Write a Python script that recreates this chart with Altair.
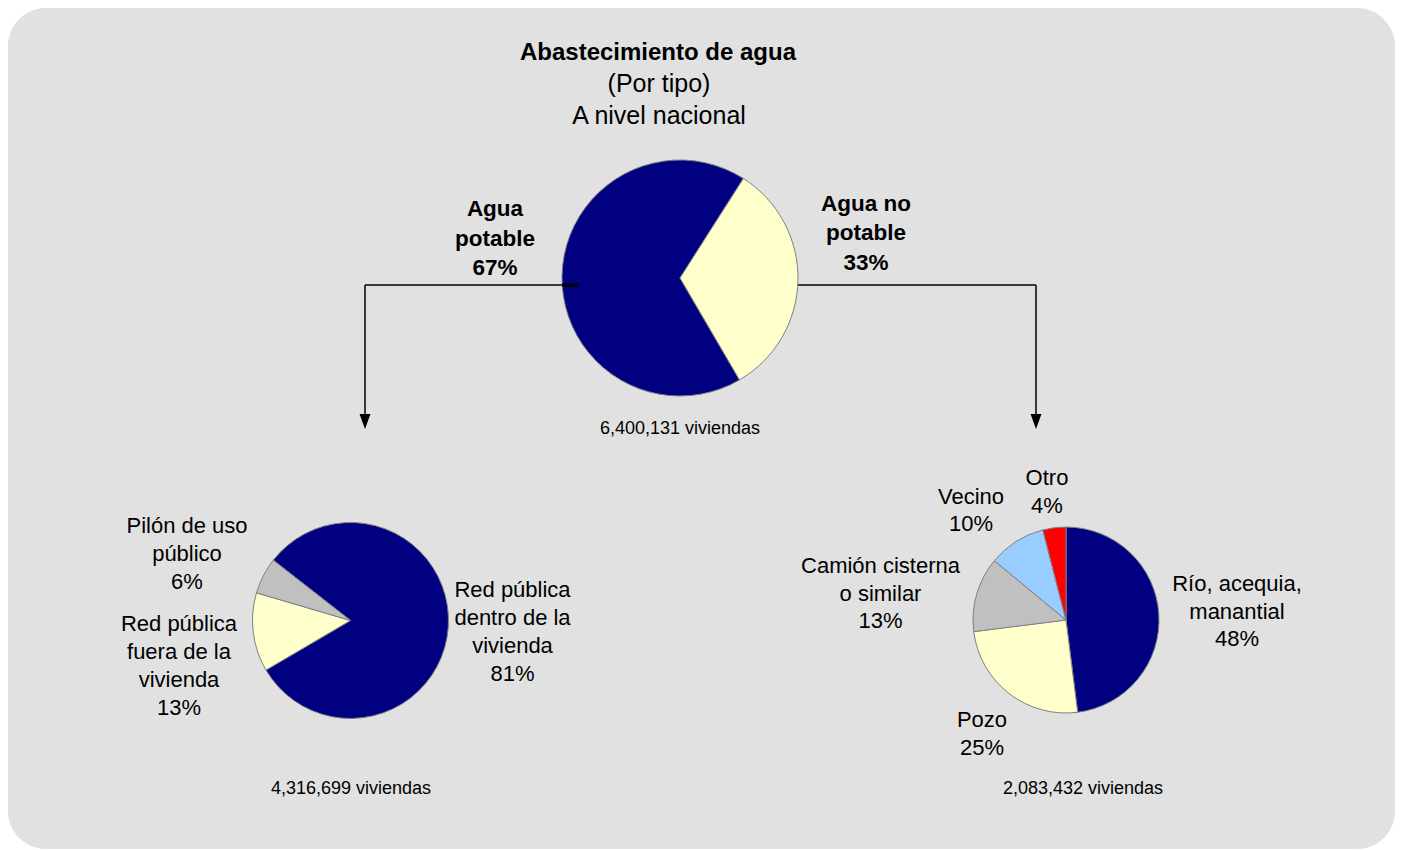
import math
import altair as alt
import pandas as pd

# ---------------- data ----------------
top_cats = ["Agua potable", "Agua no potable"]
top_vals = [4316699, 2083432]

left_cats = ["Red pública dentro de la vivienda", "Red pública fuera de la vivienda", "Pilón de uso público"]
left_vals = [81, 13, 6]

right_cats = ["Río, acequia, manantial", "Pozo", "Camión cisterna o similar", "Vecino", "Otro"]
right_vals = [48, 25, 13, 10, 4]

title_lines = ["Abastecimiento de agua", "(Por tipo)", "A nivel nacional"]
unit = "viviendas"

# label wrapping (text only)
wrapped = {
    "Agua potable": "Agua\npotable",
    "Agua no potable": "Agua no\npotable",
    "Red pública dentro de la vivienda": "Red pública\ndentro de la\nvivienda",
    "Red pública fuera de la vivienda": "Red pública\nfuera de la\nvivienda",
    "Pilón de uso público": "Pilón de uso\npúblico",
    "Río, acequia, manantial": "Río, acequia,\nmanantial",
    "Pozo": "Pozo",
    "Camión cisterna o similar": "Camión cisterna\no similar",
    "Vecino": "Vecino",
    "Otro": "Otro",
}

# ---------------- styles / layout ----------------
NAVY, CREAM, GRAY, SKY, RED = "#000080", "#FFFFCC", "#C0C0C0", "#99CCFF", "#FF0000"
top_colors = [NAVY, CREAM]
left_colors = [NAVY, CREAM, GRAY]
right_colors = [NAVY, CREAM, GRAY, SKY, RED]

OFF = 8
W, H = 1387, 841
FONT = "Liberation Sans"

# label anchor positions (page pixels, centre of first line)
label_pos = {
    "Agua potable": (495, 209),
    "Agua no potable": (866, 203.5),
    "Red pública dentro de la vivienda": (512.5, 590),
    "Red pública fuera de la vivienda": (179, 623.5),
    "Pilón de uso público": (187, 526),
    "Río, acequia, manantial": (1237, 584),
    "Pozo": (982, 720),
    "Camión cisterna o similar": (880.5, 566),
    "Vecino": (971, 496.5),
    "Otro": (1047, 478),
}


def pct(vals):
    s = sum(vals)
    return [f"{round(v / s * 100)}%" for v in vals]


def pie(cats, vals, colors, cx, cy, r, start_deg):
    df = pd.DataFrame({"cat": cats, "val": vals, "col": colors, "ord": list(range(len(cats)))})
    s = math.radians(start_deg)
    return alt.Chart(df).mark_arc(radius=r, stroke="#808080", strokeWidth=1).encode(
        theta=alt.Theta("val:Q", stack=True, scale=alt.Scale(range=[s, s + 2 * math.pi])),
        color=alt.Color("col:N", scale=None),
        order=alt.Order("ord:Q"),
        x=alt.value(cx - OFF),
        y=alt.value(cy - OFF),
    )


def label_df(cats, vals):
    p = pct(vals)
    rows = []
    for c, pp in zip(cats, p):
        x, y = label_pos[c]
        rows.append({"t": wrapped[c] + "\n" + pp, "px": x - OFF, "py": y - OFF})
    return pd.DataFrame(rows)


def text_layer(df, size, bold=False, lh=None):
    kw = dict(font=FONT, fontSize=size, color="black", align="center", baseline="middle", lineBreak="\n")
    if bold:
        kw["fontWeight"] = "bold"
    if lh:
        kw["lineHeight"] = lh
    return alt.Chart(df).mark_text(**kw).encode(
        x=alt.X("px:Q", scale=None), y=alt.Y("py:Q", scale=None), text="t:N"
    )


bg = alt.Chart(pd.DataFrame({"a": [0]})).mark_rect(color="#E1E1E1", cornerRadius=38).encode(
    x=alt.value(0), x2=alt.value(W), y=alt.value(0), y2=alt.value(H)
)

pie_top = pie(top_cats, top_vals, top_colors, 680, 278, 118, 149.7)
pie_left = pie(left_cats, left_vals, left_colors, 350.5, 620.5, 98, 308)
pie_right = pie(right_cats, right_vals, right_colors, 1066, 620, 93, 0)

# connectors (page px)
segs = pd.DataFrame({
    "x1": [365, 365, 798, 1036], "x2": [563, 365, 1036, 1036],
    "y1": [285, 285, 285, 285], "y2": [285, 416, 285, 416],
})
segs[["x1", "x2", "y1", "y2"]] -= OFF
rules = alt.Chart(segs).mark_rule(color="black", strokeWidth=1.5).encode(
    x=alt.X("x1:Q", scale=None), x2="x2:Q", y=alt.Y("y1:Q", scale=None), y2="y2:Q"
)
stub = alt.Chart(pd.DataFrame({"x1": [562 - OFF], "x2": [578 - OFF], "y1": [285 - OFF]})).mark_rule(
    color="black", strokeWidth=3.5
).encode(x=alt.X("x1:Q", scale=None), x2="x2:Q", y=alt.Y("y1:Q", scale=None))
arrows = alt.Chart(pd.DataFrame({"px": [365 - OFF, 1036 - OFF], "py": [421.5 - OFF, 421.5 - OFF]})).mark_point(
    shape="M-0.73,-1L0.73,-1L0,1Z", size=225, filled=True, color="black", opacity=1, strokeWidth=0
).encode(x=alt.X("px:Q", scale=None), y=alt.Y("py:Q", scale=None))

title = text_layer(pd.DataFrame({"t": [title_lines[0]], "px": [658 - OFF], "py": [53 - OFF]}), 24, bold=True)
subs = text_layer(pd.DataFrame({"t": title_lines[1:], "px": [659 - OFF, 659 - OFF], "py": [84 - OFF, 115.5 - OFF]}), 25)

top_lbl = text_layer(label_df(top_cats, top_vals), 22.5, bold=True, lh=29.5)
left_lbl = text_layer(label_df(left_cats, left_vals), 22, lh=28)
right_lbl = text_layer(label_df(right_cats, right_vals), 22, lh=27.5)

tot = [sum(top_vals), top_vals[0], top_vals[1]]
totals = text_layer(pd.DataFrame({
    "t": [f"{v:,} {unit}" for v in tot],
    "px": [680 - OFF, 351 - OFF, 1083 - OFF],
    "py": [429 - OFF, 789 - OFF, 789 - OFF],
}), 18)

chart = alt.layer(
    bg, rules, arrows, pie_top, pie_left, pie_right, stub, title, subs, top_lbl, left_lbl, right_lbl, totals
).resolve_scale(theta="independent").properties(
    width=W, height=H, autosize=alt.AutoSizeParams(type="none"), padding=0, background="white"
).configure_view(stroke=None)

chart.save("out.html", embed_options={"renderer": "svg", "actions": False})
